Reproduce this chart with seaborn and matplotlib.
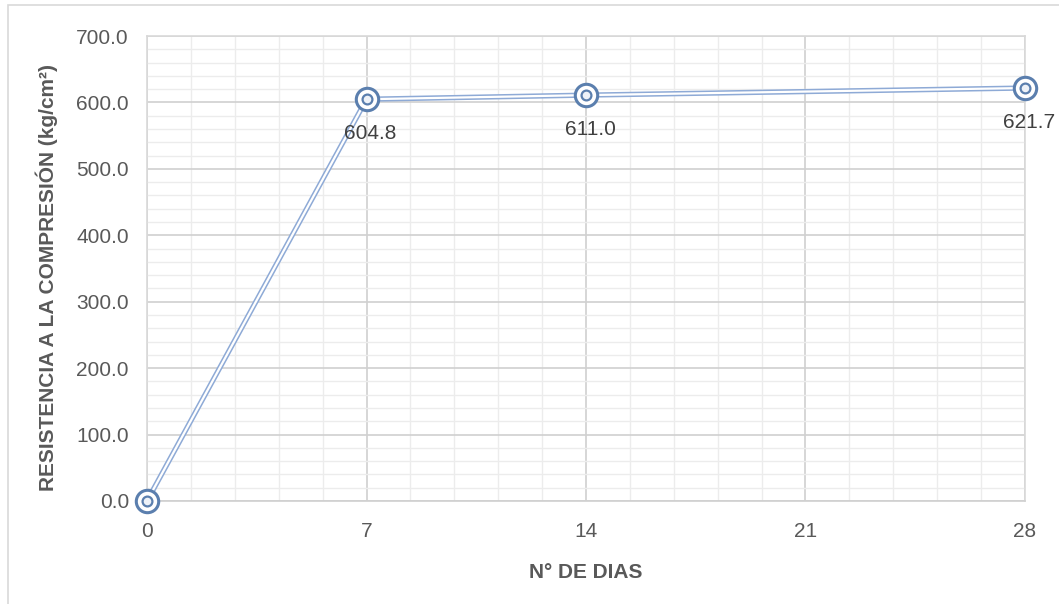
import matplotlib
matplotlib.use("Agg")
import matplotlib.pyplot as plt
import seaborn as sns
import pandas as pd
from matplotlib.patches import Rectangle
from matplotlib.ticker import MultipleLocator, FormatStrFormatter

dias = [0, 7, 14, 28]
resistencia = [0.0, 604.8, 611.0, 621.7]
etiquetas = ["", "604.8", "611.0", "621.7"]

df = pd.DataFrame({"dias": dias, "resistencia": resistencia})

sns.set_style("white")
plt.rcParams["font.family"] = ["Liberation Sans", "DejaVu Sans"]

W, H = 1059, 604
fig = plt.figure(figsize=(W / 100, H / 100), dpi=100)
ax = fig.add_axes([147 / W, 1 - 501 / H, (1025 - 147) / W, (501 - 36) / H])

# light outer frame of the chart area
fig.patches.append(Rectangle((8 / W, -0.1), 1.2, 1 - 5 / H + 0.1,
                             transform=fig.transFigure, fill=False,
                             edgecolor="#d9d9d9", linewidth=1.2, zorder=0))

line_blue = "#8eaad6"
marker_blue = "#5b7fae"

# double (compound) line: wide blue stroke with a white core
for col, lw, z in [(line_blue, 3.8, 3), ("white", 1.6, 4)]:
    sns.lineplot(data=df, x="dias", y="resistencia", ax=ax, color=col,
                 linewidth=lw, zorder=z, solid_joinstyle="miter", clip_on=False)

# concentric-ring markers
ax.scatter(df["dias"], df["resistencia"], s=260, facecolor="white",
           edgecolor=marker_blue, linewidth=2.2, zorder=5, clip_on=False)
ax.scatter(df["dias"], df["resistencia"], s=50, facecolor="#eef2f8",
           edgecolor=marker_blue, linewidth=1.6, zorder=6, clip_on=False)

for x, y, t in zip(dias, resistencia, etiquetas):
    if t:
        ax.annotate(t, (x, y), xytext=(3, -25), textcoords="offset points",
                    ha="center", va="center", fontsize=15, color="#404040",
                    zorder=7, annotation_clip=False)

ax.set_xlim(0, 28)
ax.set_ylim(0, 700)
ax.xaxis.set_major_locator(MultipleLocator(7))
ax.xaxis.set_minor_locator(MultipleLocator(1.4))
ax.yaxis.set_major_locator(MultipleLocator(100))
ax.yaxis.set_minor_locator(MultipleLocator(20))
ax.yaxis.set_major_formatter(FormatStrFormatter("%.1f"))

ax.grid(which="major", color="#d0d0d0", linewidth=1.2, zorder=1)
ax.grid(which="minor", color="#ececec", linewidth=1.0, zorder=0)
ax.set_axisbelow(True)

for s in ["top", "right", "left"]:
    ax.spines[s].set_color("#d9d9d9")
    ax.spines[s].set_linewidth(1.2)
ax.spines["bottom"].set_color("#d0d0d0")
ax.spines["bottom"].set_linewidth(1.2)

ax.tick_params(which="both", length=0, labelsize=15, labelcolor="#595959")
ax.tick_params(axis="x", pad=15)
ax.tick_params(axis="y", pad=13)

ax.set_xlabel("N° DE DIAS", fontsize=15, fontweight="bold", color="#595959", labelpad=16)
ax.set_ylabel("RESISTENCIA A LA COMPRESIÓN (kg/cm²)", fontsize=15, fontweight="bold",
              color="#595959")
ax.yaxis.set_label_coords(-0.101, 0.48)

fig.savefig("out.png", dpi=100, facecolor="white")
